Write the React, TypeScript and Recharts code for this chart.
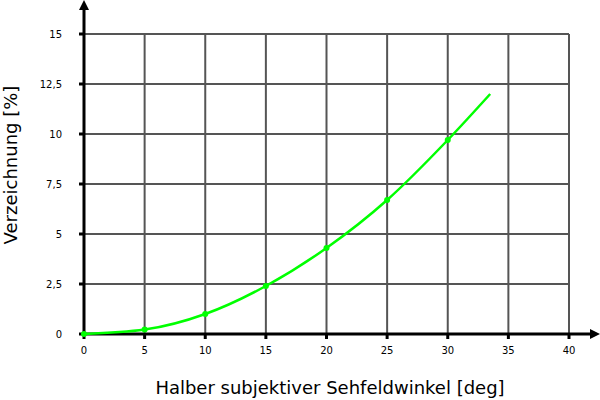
import { LineChart, Line, XAxis, YAxis, CartesianGrid, Customized } from 'recharts';

// half field angle [deg] vs distortion [%]
const angles = [0, 5, 10, 15, 20, 25, 30, 33.5];
const distortion = [0, 0.22, 1.0, 2.4, 4.3, 6.7, 9.7, 12.0];
const xTicks = [0, 5, 10, 15, 20, 25, 30, 35, 40];
const yTicks = [0, 2.5, 5, 7.5, 10, 12.5, 15];

const data = angles.map((a, i) => ({ angle: a, value: distortion[i] }));

const W = 600;
const H = 400;
const M = { top: 34, right: 31, left: 0, bottom: 0 };
const Y_AXIS_W = 84;
const X_AXIS_H = 66;

const FONT = '"DejaVu Sans", Verdana, sans-serif';

// axis lines with arrow heads, plus axis titles
const Overlay = () => {
  const x0 = M.left + Y_AXIS_W;
  const y0 = H - M.bottom - X_AXIS_H;
  return (
    <g>
      <line x1={x0} y1={y0} x2={x0} y2={6} stroke="#000" strokeWidth={3} />
      <path d={`M${x0} 0 L${x0 - 5} 10 L${x0 + 5} 10 Z`} fill="#000" />
      <line x1={x0} y1={y0} x2={W - 6} y2={y0} stroke="#000" strokeWidth={3} />
      <path d={`M${W} ${y0} L${W - 10} ${y0 - 5} L${W - 10} ${y0 + 5} Z`} fill="#000" />
      <text x={330} y={394} textAnchor="middle" fontSize={18} fontFamily={FONT} fill="#000">
        Halber subjektiver Sehfeldwinkel [deg]
      </text>
      <text
        x={17}
        y={165}
        textAnchor="middle"
        fontSize={18}
        fontFamily={FONT}
        fill="#000"
        transform="rotate(-90 17 165)"
      >
        Verzeichnung [%]
      </text>
    </g>
  );
};

const Dot = (props: any) => {
  const { cx, cy, index } = props;
  if (index === data.length - 1) return <g key={index} />;
  return <circle key={index} cx={cx} cy={cy} r={3} fill="#00ff00" />;
};

export default function App() {
  return (
    <div style={{ position: 'absolute', left: 0, top: 0, background: '#fff' }}>
      <LineChart width={W} height={H} data={data} margin={M}>
        <CartesianGrid stroke="#555" strokeWidth={2} ifOverflow="visible" />
        <XAxis
          dataKey="angle"
          type="number"
          domain={[0, 40]}
          ticks={xTicks}
          height={X_AXIS_H}
          axisLine={false}
          tickLine={{ stroke: '#000', strokeWidth: 3 }}
          tickSize={5}
          tickMargin={8}
          tick={{ fontSize: 10, fill: '#000', fontFamily: FONT }}
          interval={0}
        />
        <YAxis
          type="number"
          domain={[0, 15]}
          ticks={yTicks}
          width={Y_AXIS_W}
          axisLine={false}
          tickLine={{ stroke: '#000', strokeWidth: 3 }}
          tickSize={5}
          tickMargin={17}
          tick={{ fontSize: 10, fill: '#000', fontFamily: FONT }}
          tickFormatter={(v: number) => String(v).replace('.', ',')}
          interval={0}
        />
        <Customized component={Overlay} />
        <Line
          type="monotone"
          dataKey="value"
          stroke="#00ff00"
          strokeWidth={2.5}
          dot={Dot}
          activeDot={false}
          isAnimationActive={false}
        />
      </LineChart>
    </div>
  );
}
